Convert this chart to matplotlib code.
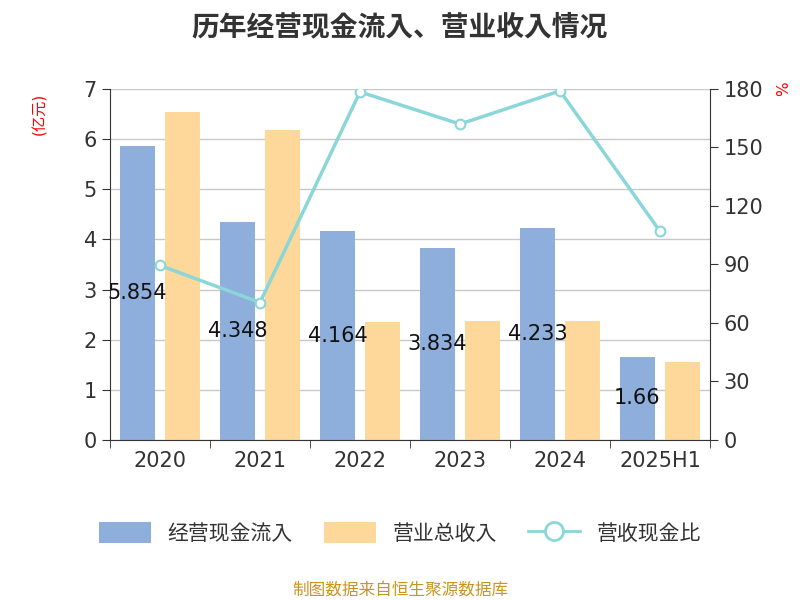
import matplotlib
matplotlib.use("Agg")
import matplotlib.pyplot as plt
from matplotlib import font_manager as fm
from matplotlib.lines import Line2D
from matplotlib.patches import Patch
import numpy as np

cjk = [f.name for f in fm.fontManager.ttflist if "CJK" in f.name]
fam = "Noto Sans CJK SC" if "Noto Sans CJK SC" in cjk else (cjk[0] if cjk else "DejaVu Sans")
plt.rcParams["font.family"] = ["DejaVu Sans", fam]
plt.rcParams["font.sans-serif"] = ["DejaVu Sans", fam]

categories = ["2020", "2021", "2022", "2023", "2024", "2025H1"]
cash_inflow = [5.854, 4.348, 4.164, 3.834, 4.233, 1.66]
revenue = [6.55, 6.18, 2.35, 2.38, 2.37, 1.55]
ratio = [89.5, 70.5, 178.5, 162, 179, 107]

fig = plt.figure(figsize=(8, 6), dpi=100)
ax = fig.add_axes([0.1375, 0.2667, 0.75, 0.585])
x = np.arange(len(categories))
blue = "#8eaedb"; orange = "#fed89a"; teal = "#8ad6d8"
ax.bar(x - 0.225, cash_inflow, 0.35, color=blue, zorder=2)
ax.bar(x + 0.225, revenue, 0.35, color=orange, zorder=2)
for xi, v in zip(x, cash_inflow):
    ax.text(xi - 0.225, v / 2, f"{v:g}", ha="center", va="center", fontsize=15, color="#111", zorder=5)
ax.set_xlim(-0.5, len(categories) - 0.5)
ax.set_ylim(0, 7)
ax.set_yticks(range(8))
ax.grid(axis="y", color="#c8c8c8", lw=1, zorder=0)
ax.set_xticks(x)
ax.set_xticklabels(categories)
ax.set_xticks(np.arange(-0.5, len(categories)), minor=True)
ax.tick_params(axis="x", which="major", length=0, labelsize=15, colors="#333", pad=8)
ax.tick_params(axis="x", which="minor", length=6, color="#333")
ax.tick_params(axis="y", labelsize=15, colors="#333", length=6)
for s in ["top", "right"]:
    ax.spines[s].set_visible(False)
ax.spines["left"].set_color("#333"); ax.spines["bottom"].set_color("#333")
ax.set_ylabel("(亿元)", color="red", fontsize=11, labelpad=8)

ax2 = ax.twinx()
ax2.plot(x, ratio, color=teal, lw=2.5, marker="o", markersize=7, markerfacecolor="white",
         markeredgecolor=teal, markeredgewidth=1.5, zorder=4)
ax2.set_ylim(0, 180)
ax2.set_yticks(range(0, 181, 30))
ax2.tick_params(axis="y", labelsize=15, colors="#333", length=6)
for s in ["top", "left", "bottom"]:
    ax2.spines[s].set_visible(False)
ax2.spines["right"].set_color("#333")
ax2.set_ylabel("%", color="red", fontsize=11, rotation=90, labelpad=8)
ax2.yaxis.set_label_coords(1.11, 1.0)
ax.yaxis.set_label_coords(-0.105, 0.93)

fig.text(0.5, 0.955, "历年经营现金流入、营业收入情况", ha="center", va="center", fontsize=20, fontweight="bold", color="#333")
handles = [Patch(facecolor=blue, label="经营现金流入"), Patch(facecolor=orange, label="营业总收入"),
           Line2D([0], [0], color=teal, lw=2, marker="o", markersize=13, markerfacecolor="white",
                  markeredgecolor=teal, markeredgewidth=2, label="营收现金比")]
fig.legend(handles=handles, loc="center", bbox_to_anchor=(0.5, 0.112), ncol=3, frameon=False,
           fontsize=15, handlelength=2.5, handleheight=1.2, columnspacing=1.5, labelcolor="#333")
fig.text(0.5, 0.017, "制图数据来自恒生聚源数据库", ha="center", va="center", fontsize=12, color="#c8961e")
fig.savefig("out.png")
